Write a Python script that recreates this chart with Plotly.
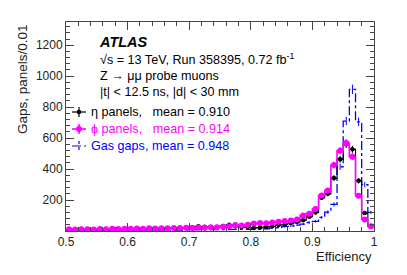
import numpy as np
import plotly.graph_objects as go

# ---------------- data ----------------
bin_edges = np.round(np.arange(0.50, 1.0001, 0.01), 2)
bin_centers = (bin_edges[:-1] + bin_edges[1:]) / 2

eta_counts = [10, 8, 10, 9, 12, 10, 9, 11, 12, 13,
              14, 15, 14, 16, 15, 18, 17, 16, 20, 22,
              25, 30, 28, 22, 26, 32, 40, 30, 25, 24,
              20, 22, 26, 30, 38, 42, 50, 58, 70, 92,
              120, 215, 240, 342, 464, 560, 528, 325, 116, 32]

phi_counts = [12, 10, 12, 11, 10, 13, 12, 14, 13, 15,
              14, 16, 15, 17, 16, 18, 17, 19, 20, 21,
              20, 22, 21, 24, 25, 27, 30, 38, 35, 40,
              48, 52, 50, 55, 60, 65, 68, 75, 100, 112,
              142, 230, 262, 426, 518, 568, 480, 228, 75, 30]

gas_counts = [3, 4, 3, 4, 5, 4, 3, 4, 5, 4,
              5, 4, 5, 6, 5, 6, 5, 6, 7, 6,
              7, 8, 7, 8, 9, 8, 9, 10, 9, 10,
              11, 12, 14, 18, 22, 28, 32, 38, 45, 55,
              62, 88, 122, 172, 415, 710, 915, 705, 300, 120]

x_ticks = [0.5, 0.6, 0.7, 0.8, 0.9, 1.0]
x_ticklabels = ["0.5", "0.6", "0.7", "0.8", "0.9", "1"]
y_ticks = [200, 400, 600, 800, 1000, 1200]

legend_labels = ["η panels,   mean = 0.910", "ϕ panels,   mean = 0.914", "Gas gaps, mean = 0.948"]
info_lines = ["√s = 13 TeV, Run 358395, 0.72 fb<sup>-1</sup>",
              "Z → μμ probe muons",
              "|t| < 12.5 ns, |d| < 30 mm"]

BLACK = "#000000"
MAGENTA = "#FF00FF"
BLUE = "#0000FF"
FONT = "Liberation Sans, Arial, Helvetica, sans-serif"

# ---------------- figure ----------------
# the page body has an 8px margin, so the figure is drawn 8px right/down
OFF = 8
W, H = 407 - OFF, 275 - OFF
L, R, T, B = 66 - OFF, 33, 22 - OFF, 44
PW, PH = W - L - R, H - T - B
PL, PT = 66, 22  # plot area origin in page pixels


def PX(x):
    return (x - PL) / PW


def PY(y):
    return (PT + PH - y) / PH


def steps(vals):
    xs = np.repeat(bin_edges, 2)[1:-1]
    ys = np.repeat(np.asarray(vals, float), 2)
    return xs, ys


fig = go.Figure()

# gas gaps (blue dash-dot)
xs, ys = steps(gas_counts)
fig.add_trace(go.Scatter(x=xs, y=ys, mode="lines",
                         line=dict(color=BLUE, width=1.3, dash="dashdot"),
                         hoverinfo="skip", showlegend=False))
fig.add_trace(go.Scatter(x=bin_centers, y=gas_counts, mode="markers",
                         marker=dict(size=1, color=BLUE, opacity=0),
                         error_y=dict(type="data", array=np.sqrt(gas_counts), color=BLUE, thickness=1, width=0),
                         showlegend=False))

# eta panels (black)
xs, ys = steps(eta_counts)
fig.add_trace(go.Scatter(x=xs, y=ys, mode="lines",
                         line=dict(color=BLACK, width=1.1),
                         hoverinfo="skip", showlegend=False))
fig.add_trace(go.Scatter(x=bin_centers, y=eta_counts, mode="markers",
                         marker=dict(size=4.5, color=BLACK, symbol="circle"),
                         error_y=dict(type="data", array=np.sqrt(eta_counts), color=BLACK, thickness=1.1, width=0),
                         error_x=dict(type="constant", value=0.005, color=BLACK, thickness=1.1, width=0),
                         showlegend=False))

# phi panels (magenta)
xs, ys = steps(phi_counts)
fig.add_trace(go.Scatter(x=xs, y=ys, mode="lines",
                         line=dict(color=MAGENTA, width=1.6),
                         hoverinfo="skip", showlegend=False))
fig.add_trace(go.Scatter(x=bin_centers, y=phi_counts, mode="markers",
                         marker=dict(size=6, color=MAGENTA, symbol="circle"),
                         error_y=dict(type="data", array=np.sqrt(phi_counts), color=MAGENTA, thickness=1.6, width=0),
                         error_x=dict(type="constant", value=0.005, color=MAGENTA, thickness=1.6, width=0),
                         showlegend=False))

axis_common = dict(showline=True, linecolor="#444444", linewidth=1, mirror="allticks",
                   ticks="inside", ticklen=8, tickcolor="#444444", showgrid=False, zeroline=False,
                   tickfont=dict(family=FONT, size=12, color="#222222"), automargin=False)

fig.update_xaxes(range=[0.5, 1.0], tickvals=x_ticks, ticktext=x_ticklabels,
                 minor=dict(ticks="inside", dtick=0.02, tick0=0.5, ticklen=4, tickcolor="#444444"),
                 **axis_common)
fig.update_yaxes(range=[0, 1350], tickvals=y_ticks,
                 minor=dict(ticks="inside", dtick=40, tick0=0, ticklen=4, tickcolor="#444444"),
                 **axis_common)

annotations = []
annotations.append(dict(text="<b><i>ATLAS</i></b>", x=PX(97), y=PY(42), xref="paper", yref="paper",
                        xanchor="left", yanchor="middle", showarrow=False,
                        font=dict(family=FONT, size=14.5, color="black")))
for i, t in enumerate(info_lines):
    annotations.append(dict(text=t, x=PX(98), y=PY(59 + 16.7 * i), xref="paper", yref="paper",
                            xanchor="left", yanchor="middle", showarrow=False,
                            font=dict(family=FONT, size=12.6, color="black")))

leg_colors = [BLACK, MAGENTA, BLUE]
leg_y = [112, 129, 146]
for lab, c, yy in zip(legend_labels, leg_colors, leg_y):
    annotations.append(dict(text=lab, x=PX(89), y=PY(yy), xref="paper", yref="paper",
                            xanchor="left", yanchor="middle", showarrow=False,
                            font=dict(family=FONT, size=12.6, color=c)))

annotations.append(dict(text="Gaps, panels/0.01", x=PX(22), y=1.0, xref="paper", yref="paper",
                        xanchor="center", yanchor="top", textangle=-90, showarrow=False,
                        font=dict(family=FONT, size=13.5, color="#222222")))
annotations.append(dict(text="Efficiency", x=1.0, y=PY(256), xref="paper", yref="paper",
                        xanchor="right", yanchor="middle", showarrow=False,
                        font=dict(family=FONT, size=13, color="#222222")))

shapes = []
# legend symbols
for c, yy, lw, r in [(BLACK, 112, 1.2, 2.3), (MAGENTA, 129, 1.6, 3.0)]:
    shapes.append(dict(type="line", xref="paper", yref="paper", x0=PX(72), x1=PX(86), y0=PY(yy), y1=PY(yy),
                       line=dict(color=c, width=lw)))
    shapes.append(dict(type="line", xref="paper", yref="paper", x0=PX(79), x1=PX(79), y0=PY(yy - 5), y1=PY(yy + 5),
                       line=dict(color=c, width=lw)))
    shapes.append(dict(type="circle", xref="paper", yref="paper", x0=PX(79 - r), x1=PX(79 + r),
                       y0=PY(yy + r), y1=PY(yy - r), fillcolor=c, line=dict(color=c, width=0)))
shapes.append(dict(type="line", xref="paper", yref="paper", x0=PX(72), x1=PX(86), y0=PY(146), y1=PY(146),
                   line=dict(color=BLUE, width=1.2, dash="dashdot")))
shapes.append(dict(type="line", xref="paper", yref="paper", x0=PX(79), x1=PX(79), y0=PY(141), y1=PY(151),
                   line=dict(color=BLUE, width=1.2, dash="dot")))

fig.update_layout(width=W, height=H, margin=dict(l=L, r=R, t=T, b=B, autoexpand=False),
                  paper_bgcolor="white", plot_bgcolor="white",
                  annotations=annotations, shapes=shapes, showlegend=False)

fig.write_html("out.html")
